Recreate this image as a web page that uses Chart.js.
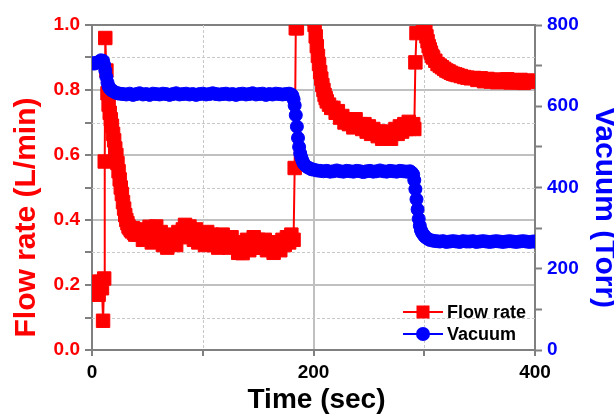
<!DOCTYPE html>
<html>
<head>
<meta charset="utf-8">
<script src="https://cdn.jsdelivr.net/npm/chart.js@4.4.1/dist/chart.umd.min.js"></script>
<style>
  html, body { margin: 0; padding: 0; background: #fff; }
  #wrap { width: 614px; height: 414px; }
</style>
</head>
<body>
<div id="wrap"><canvas id="chart" width="614" height="414"></canvas></div>
<script>
// flow rate (L/min) vs time (sec)
const flowTime = [
  0, 1.5, 3, 4.5, 6, 7.5, 9, 10, 11, 11.5,
  12, 13, 14, 15, 16, 17, 18, 19, 20, 21,
  22, 23, 24, 25, 26, 27, 28, 29, 30, 31,
  32, 33, 34, 35, 36, 37, 38, 39, 40,
  42, 44, 46, 48, 50, 52, 54, 56, 58, 60,
  62, 64, 66, 68, 70, 72, 74, 76, 78, 80,
  82, 84, 86, 88, 90, 92, 94, 96, 98, 100,
  102, 104, 106, 108, 110, 112, 114, 116, 118, 120,
  122, 124, 126, 128, 130, 132, 134, 136, 138, 140,
  142, 144, 146, 148, 150, 152, 154, 156, 158, 160,
  162, 164, 166, 168, 170, 172, 174, 176, 178, 180,
  182,
  183, 184, 185, 187, 199, 200, 201, 202, 203, 204,
  205, 206, 207, 208, 209, 210, 211, 212, 214, 216,
  218, 220, 222, 224, 226, 228, 230, 232, 234, 236,
  238, 240, 242, 244, 246, 248, 250, 252, 254, 256,
  258, 260, 262, 264, 266, 268, 270, 272, 274, 276,
  278, 280, 282, 284, 286, 288, 290, 291,
  292, 293, 294, 299, 300, 301, 302, 303, 304, 305,
  306, 307, 308, 310, 312, 314, 316, 318, 320, 322,
  324, 326, 328, 330, 333, 336, 339, 342, 345, 348,
  351, 354, 357, 360, 363, 366, 369, 372, 375, 378,
  381, 384, 387, 390, 393, 396, 400
];
const flowRate = [
  0.19, 0.21, 0.18, 0.20, 0.17, 0.21, 0.19, 0.09, 0.22, 0.58,
  0.96, 0.86, 0.79, 0.755, 0.73, 0.71, 0.69, 0.665, 0.645, 0.62,
  0.60, 0.575, 0.55, 0.525, 0.50, 0.48, 0.455, 0.435, 0.415, 0.40,
  0.39, 0.38, 0.375, 0.37, 0.365, 0.375, 0.36, 0.355, 0.365,
  0.355, 0.371, 0.339, 0.363, 0.347, 0.379, 0.331, 0.355, 0.38, 0.339,
  0.363, 0.323, 0.347, 0.315, 0.355, 0.331, 0.347, 0.323, 0.363, 0.347,
  0.371, 0.385, 0.355, 0.38, 0.363, 0.339, 0.371, 0.331, 0.355, 0.347,
  0.323, 0.363, 0.339, 0.355, 0.323, 0.347, 0.315, 0.339, 0.355, 0.323,
  0.339, 0.315, 0.347, 0.331, 0.323, 0.299, 0.331, 0.298, 0.315, 0.339,
  0.307, 0.331, 0.347, 0.315, 0.339, 0.323, 0.315, 0.339, 0.307, 0.331,
  0.315, 0.299, 0.323, 0.331, 0.307, 0.339, 0.323, 0.347, 0.331, 0.355,
  0.339,
  0.56, 0.99, 0.99, 1.08, 1.08, 1.02, 1.0, 0.965, 0.935, 0.905,
  0.88, 0.855, 0.835, 0.815, 0.80, 0.785, 0.775, 0.765, 0.755, 0.745,
  0.745, 0.73, 0.735, 0.715, 0.72, 0.70, 0.71, 0.695, 0.705, 0.685,
  0.71, 0.688, 0.695, 0.68, 0.695, 0.672, 0.688, 0.665, 0.68, 0.672,
  0.658, 0.672, 0.65, 0.665, 0.658, 0.672, 0.65, 0.665, 0.68, 0.665,
  0.688, 0.672, 0.695, 0.68, 0.702, 0.688, 0.695, 0.68,
  0.885, 0.975, 1.08, 1.08, 1.02, 0.99, 0.965, 0.95, 0.935, 0.925,
  0.915, 0.905, 0.90, 0.89, 0.88, 0.875, 0.87, 0.865, 0.86, 0.857,
  0.853, 0.85, 0.848, 0.846, 0.843, 0.84, 0.838, 0.836, 0.837, 0.831,
  0.836, 0.827, 0.834, 0.826, 0.832, 0.824, 0.831, 0.826, 0.833, 0.823,
  0.830, 0.824, 0.831, 0.822, 0.829, 0.825, 0.828
];

// vacuum (Torr) vs time (sec)
const vacTime = [
  0, 2, 4, 6, 8, 10, 11, 12, 13, 14,
  15, 16, 17, 18, 19, 21, 23, 25, 28,
  31, 34, 37, 40, 43, 46, 49, 52, 55, 58,
  61, 64, 67, 70, 73, 76, 79, 82, 85, 88,
  91, 94, 97, 100, 103, 106, 109, 112, 115, 118,
  121, 124, 127, 130, 133, 136, 139, 142, 145, 148,
  151, 154, 157, 160, 163, 166, 169, 172, 175, 178,
  180, 181, 182, 183, 184, 185, 186, 187, 188, 189,
  190, 191, 192, 194, 196, 198, 200, 203, 206,
  209, 212, 215, 218, 221, 224, 227, 230, 233, 236,
  239, 242, 245, 248, 251, 254, 257, 260, 263, 266,
  269, 272, 275, 278, 281, 284, 287,
  288, 289, 290, 291, 292, 293, 294, 295, 296, 297,
  298, 299, 300, 301, 303, 305, 308,
  311, 314, 317, 320, 323, 326, 329, 332, 335, 338,
  341, 344, 347, 350, 353, 356, 359, 362, 365, 368,
  371, 374, 377, 380, 383, 386, 389, 392, 395, 398,
  400
];
const vacTorr = [
  706, 705, 707, 709, 713, 712, 702, 688, 672, 658,
  649, 644, 641, 639, 637, 634, 632, 631, 630,
  629, 631, 628, 630, 632, 629, 630, 628, 631, 630,
  629, 631, 630, 628, 630, 632, 629, 630, 631, 629,
  630, 628, 630, 631, 629, 630, 632, 630, 629, 630,
  631, 629, 630, 628, 630, 631, 629, 630, 632, 629,
  630, 631, 628, 630, 629, 631, 630, 629, 630, 631,
  629, 626, 617, 602, 578, 550, 522, 500, 484, 474,
  466, 460, 456, 451, 448, 445, 444, 442, 441,
  440, 441, 439, 440, 442, 440, 439, 441, 440, 439,
  441, 440, 438, 440, 441, 439, 440, 442, 440, 439,
  441, 440, 439, 441, 440, 439, 440,
  438, 436, 432, 418, 396, 371, 346, 323, 306, 295,
  289, 285, 281, 278, 274, 271, 269,
  268, 267, 268, 266, 267, 268, 267, 266, 268, 267,
  267, 268, 266, 267, 268, 267, 266, 267, 268, 267,
  266, 267, 268, 267, 266, 267, 268, 267, 266, 267,
  267
];

const xLabelled = [0, 200, 400];
const xMajorGrid = [200];
const xMinorGrid = [100, 300];
const yMajorGrid = [0.2, 0.4, 0.6, 0.8];
const yMinorGrid = [0.1, 0.3, 0.5, 0.7, 0.9];

const xTitle = 'Time (sec)';
const yTitle = 'Flow rate (L/min)';
const y2Title = 'Vacuum (Torr)';

const RED = '#ff0000';
const BLUE = '#0000ff';
const AXIS = '#808080';
const GRID = '#c0c0c0';
const FONT = '"Liberation Sans", Arial, sans-serif';

const tenths = (v) => Math.round(v * 10);

// dashed minor grid lines
const minorGrid = {
  id: 'minorGrid',
  beforeDatasetsDraw(chart) {
    const { ctx, chartArea: a, scales } = chart;
    ctx.save();
    ctx.strokeStyle = '#c8c8c8';
    ctx.lineWidth = 1;
    ctx.setLineDash([3, 2]);
    xMinorGrid.forEach((v) => {
      const px = Math.round(scales.x.getPixelForValue(v)) + 0.5;
      ctx.beginPath(); ctx.moveTo(px, a.top); ctx.lineTo(px, a.bottom); ctx.stroke();
    });
    yMinorGrid.forEach((v) => {
      const py = Math.round(scales.y.getPixelForValue(v)) + 0.5;
      ctx.beginPath(); ctx.moveTo(a.left, py); ctx.lineTo(a.right, py); ctx.stroke();
    });
    ctx.restore();
  },
};

// axis titles (placed like the original, off-centre)
const axisTitles = {
  id: 'axisTitles',
  afterDraw(chart) {
    const { ctx, chartArea: a } = chart;
    const midY = (a.top + a.bottom) / 2;
    ctx.save();
    ctx.font = `bold 30px ${FONT}`;
    ctx.textAlign = 'center';
    ctx.textBaseline = 'alphabetic';
    ctx.fillStyle = RED;
    ctx.translate(a.left - 57, midY + 30);
    ctx.rotate(-Math.PI / 2);
    ctx.fillText(yTitle, 0, 0);
    ctx.restore();

    ctx.save();
    ctx.font = `bold 30px ${FONT}`;
    ctx.textAlign = 'center';
    ctx.fillStyle = BLUE;
    ctx.translate(a.right + 61, midY + 20);
    ctx.rotate(Math.PI / 2);
    ctx.fillText(y2Title, 0, 0);
    ctx.restore();

    ctx.save();
    ctx.font = `bold 28px ${FONT}`;
    ctx.textAlign = 'center';
    ctx.fillStyle = '#000';
    ctx.fillText(xTitle, (a.left + a.right) / 2 + 3, a.bottom + 58);
    ctx.restore();
  },
};

// legend with line + marker, inside the plot, bottom right
const lineLegend = {
  id: 'lineLegend',
  afterDraw(chart) {
    const { ctx, chartArea: a } = chart;
    const x0 = a.right - 132;
    chart.data.datasets.forEach((ds, i) => {
      const y = a.bottom - 38 + i * 22;
      ctx.save();
      ctx.strokeStyle = ds.borderColor;
      ctx.fillStyle = ds.borderColor;
      ctx.lineWidth = 2;
      ctx.beginPath(); ctx.moveTo(x0, y); ctx.lineTo(x0 + 40, y); ctx.stroke();
      ctx.beginPath();
      if (ds.pointStyle === 'rect') ctx.rect(x0 + 20 - 6.5, y - 6.5, 13, 13);
      else ctx.arc(x0 + 20, y, 7, 0, Math.PI * 2);
      ctx.fill();
      ctx.font = `bold 18px ${FONT}`;
      ctx.fillStyle = '#000';
      ctx.textAlign = 'left';
      ctx.fillText(ds.label, x0 + 44, y + 6);
      ctx.restore();
    });
  },
};

new Chart(document.getElementById('chart'), {
  type: 'line',
  data: {
    datasets: [
      {
        label: 'Flow rate',
        data: flowTime.map((t, i) => ({ x: t, y: flowRate[i] })),
        yAxisID: 'y',
        borderColor: RED,
        backgroundColor: RED,
        borderWidth: 2,
        pointStyle: 'rect',
        pointRadius: 9.5,
        pointBorderWidth: 1,
        pointBackgroundColor: RED,
        pointBorderColor: RED,
        tension: 0,
        clip: 0,
        order: 1,
      },
      {
        label: 'Vacuum',
        data: vacTime.map((t, i) => ({ x: t, y: vacTorr[i] })),
        yAxisID: 'y2',
        borderColor: BLUE,
        backgroundColor: BLUE,
        borderWidth: 2,
        pointStyle: 'circle',
        pointRadius: 6.5,
        pointBorderWidth: 1,
        pointBackgroundColor: BLUE,
        pointBorderColor: BLUE,
        tension: 0,
        clip: 0,
        order: 0,
      },
    ],
  },
  options: {
    responsive: false,
    animation: false,
    events: [],
    layout: { padding: { top: 25, left: 0, right: 0, bottom: 0 } },
    plugins: { legend: { display: false }, tooltip: { enabled: false } },
    scales: {
      x: {
        type: 'linear',
        min: 0, max: 400,
        afterFit: (s) => { s.height = 64; },
        border: { display: true, color: AXIS, width: 2 },
        grid: {
          color: (c) => (c.tick && xMajorGrid.includes(c.tick.value) ? GRID : 'rgba(0,0,0,0)'),
          lineWidth: 2,
          tickColor: AXIS,
          tickWidth: 2,
          tickLength: 6,
        },
        ticks: {
          stepSize: 100,
          autoSkip: false,
          maxRotation: 0,
          padding: 5,
          color: '#000',
          font: { family: FONT, size: 19, weight: 'bold' },
          callback: (v) => (xLabelled.includes(v) ? String(v) : ''),
        },
      },
      y: {
        position: 'left',
        min: 0, max: 1,
        afterFit: (s) => { s.width = 92; },
        border: { display: true, color: AXIS, width: 2 },
        grid: {
          color: (c) => {
            if (!c.tick) return 'rgba(0,0,0,0)';
            const k = tenths(c.tick.value);
            if (k === 10) return AXIS;
            return yMajorGrid.some((m) => tenths(m) === k) ? GRID : 'rgba(0,0,0,0)';
          },
          lineWidth: 2,
          tickColor: AXIS,
          tickWidth: 2,
          tickLength: 7,
        },
        ticks: {
          stepSize: 0.1,
          autoSkip: false,
          padding: 5,
          color: RED,
          font: { family: FONT, size: 19, weight: 'bold' },
          callback: (v) => (tenths(v) % 2 === 0 ? v.toFixed(1) : ''),
        },
      },
      y2: {
        position: 'right',
        min: 0, max: 800,
        afterFit: (s) => { s.width = 79; },
        border: { display: true, color: AXIS, width: 2 },
        grid: {
          drawOnChartArea: false,
          tickColor: AXIS,
          tickWidth: 2,
          tickLength: 7,
        },
        ticks: {
          stepSize: 100,
          autoSkip: false,
          padding: 5,
          color: BLUE,
          font: { family: FONT, size: 19, weight: 'bold' },
          callback: (v) => (v % 200 === 0 ? String(v) : ''),
        },
      },
    },
  },
  plugins: [minorGrid, axisTitles, lineLegend],
});
</script>
</body>
</html>
